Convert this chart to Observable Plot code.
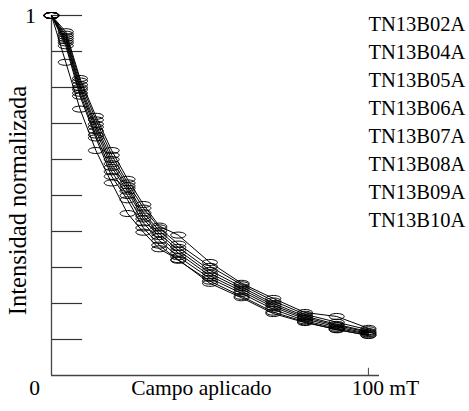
<!DOCTYPE html>
<html>
<head>
<meta charset="utf-8">
<script src="https://cdn.jsdelivr.net/npm/d3@7"></script>
<script src="https://cdn.jsdelivr.net/npm/@observablehq/plot@0.6"></script>
<style>
  html, body { margin: 0; padding: 0; background: #fff; }
  #chart svg { display: block; }
  #chart svg text { font-family: "Liberation Serif", "Times New Roman", serif; }
</style>
</head>
<body>
<div id="chart"></div>
<script>
// Applied field (mT) at each measurement step
const field = [0, 4.5, 9, 14, 19, 24, 29, 34, 40, 50, 60, 70, 80, 90, 100];

// Normalized intensity per sample
const sampleNames = ["TN13B02A", "TN13B04A", "TN13B05A", "TN13B06A", "TN13B07A", "TN13B08A", "TN13B09A", "TN13B10A"];
const tn13b02a = [1, 0.955, 0.825, 0.72, 0.625, 0.545, 0.475, 0.415, 0.39, 0.314, 0.256, 0.214, 0.175, 0.164, 0.131];
const tn13b04a = [1, 0.948, 0.818, 0.71, 0.612, 0.535, 0.465, 0.41, 0.365, 0.303, 0.252, 0.207, 0.17, 0.148, 0.127];
const tn13b05a = [1, 0.942, 0.808, 0.698, 0.60, 0.527, 0.452, 0.402, 0.356, 0.292, 0.246, 0.2, 0.165, 0.142, 0.122];
const tn13b06a = [1, 0.936, 0.80, 0.69, 0.588, 0.52, 0.443, 0.394, 0.348, 0.284, 0.24, 0.195, 0.161, 0.139, 0.12];
const tn13b07a = [1, 0.93, 0.794, 0.68, 0.578, 0.512, 0.435, 0.386, 0.34, 0.277, 0.234, 0.19, 0.157, 0.135, 0.117];
const tn13b08a = [1, 0.924, 0.784, 0.668, 0.566, 0.5, 0.424, 0.375, 0.33, 0.27, 0.228, 0.184, 0.152, 0.131, 0.115];
const tn13b09a = [1, 0.916, 0.776, 0.66, 0.553, 0.488, 0.41, 0.362, 0.32, 0.262, 0.22, 0.176, 0.149, 0.127, 0.112];
const tn13b10a = [1, 0.87, 0.74, 0.625, 0.535, 0.45, 0.398, 0.352, 0.322, 0.256, 0.216, 0.172, 0.147, 0.128, 0.111];

// Axis ticks
const yTicks = [0.1, 0.2, 0.3, 0.4, 0.5, 0.6, 0.7, 0.8, 0.9, 1];
const xTicks = [100];

const seriesValues = [tn13b02a, tn13b04a, tn13b05a, tn13b06a, tn13b07a, tn13b08a, tn13b09a, tn13b10a];
const rows = sampleNames.flatMap((name, s) =>
  field.map((f, i) => ({sample: name, field: f, intensity: seriesValues[s][i]}))
);

// Open ellipse marker, wider than tall
const ellipse = {
  draw(ctx) {
    const rx = 7.5, ry = 3, k = 0.5523;
    ctx.moveTo(rx, 0);
    ctx.bezierCurveTo(rx, ry * k, rx * k, ry, 0, ry);
    ctx.bezierCurveTo(-rx * k, ry, -rx, ry * k, -rx, 0);
    ctx.bezierCurveTo(-rx, -ry * k, -rx * k, -ry, 0, -ry);
    ctx.bezierCurveTo(rx * k, -ry, rx, -ry * k, rx, 0);
    ctx.closePath();
  }
};

const font = '"Liberation Serif", "Times New Roman", serif';
const xMax = 103.5;

const chart = Plot.plot({
  width: 469,
  height: 411,
  marginLeft: 51,
  marginRight: 90,
  marginTop: 15,
  marginBottom: 36,
  style: {fontFamily: font, background: "white", color: "black"},
  x: {domain: [0, xMax], axis: null},
  y: {domain: [0, 1], axis: null},
  marks: [
    // inward tick lines on the vertical axis
    Plot.ruleY(yTicks, {x1: 0, x2: 9.8, stroke: "#333", strokeWidth: 1.2}),
    // axes
    Plot.ruleX([0], {y1: 0, y2: 1, stroke: "#444", strokeWidth: 1.3}),
    Plot.ruleY([0], {x1: 0, x2: xMax, stroke: "#444", strokeWidth: 1.3}),
    Plot.ruleX(xTicks, {y1: 0, y2: 0.02, stroke: "#444", strokeWidth: 1}),
    // curves
    Plot.line(rows, {x: "field", y: "intensity", z: "sample", stroke: "black", strokeWidth: 1}),
    Plot.dot(rows, {x: "field", y: "intensity", symbol: ellipse, r: 3, fill: "none", stroke: "black", strokeWidth: 1}),
    // axis labels
    Plot.text(["1"], {x: 0, y: 1, dx: -21, fontSize: 22, fontFamily: font, textAnchor: "middle"}),
    Plot.text(["0"], {x: 0, y: 0, dx: -17, dy: 13, fontSize: 21.5, fontFamily: font, textAnchor: "middle"}),
    Plot.text(xTicks, {x: d => d, y: 0, dx: 17, dy: 13, text: d => `${d} mT`, fontSize: 21.5, fontFamily: font, textAnchor: "middle"}),
    Plot.text(["Campo aplicado"], {x: 47.3, y: 0, dy: 13, fontSize: 21.5, fontFamily: font, textAnchor: "middle"}),
    Plot.text(["Intensidad normalizada"], {frameAnchor: "left", dx: -33, dy: 5, rotate: -90, fontSize: 24.5, fontFamily: font, textAnchor: "middle"}),
    // sample list
    Plot.text(sampleNames, {x: 100, y: (d, i) => 0.975 - i * 0.0778, fontSize: 20.5, fontFamily: font, textAnchor: "start"})
  ]
});

document.getElementById("chart").appendChild(chart);
</script>
</body>
</html>
